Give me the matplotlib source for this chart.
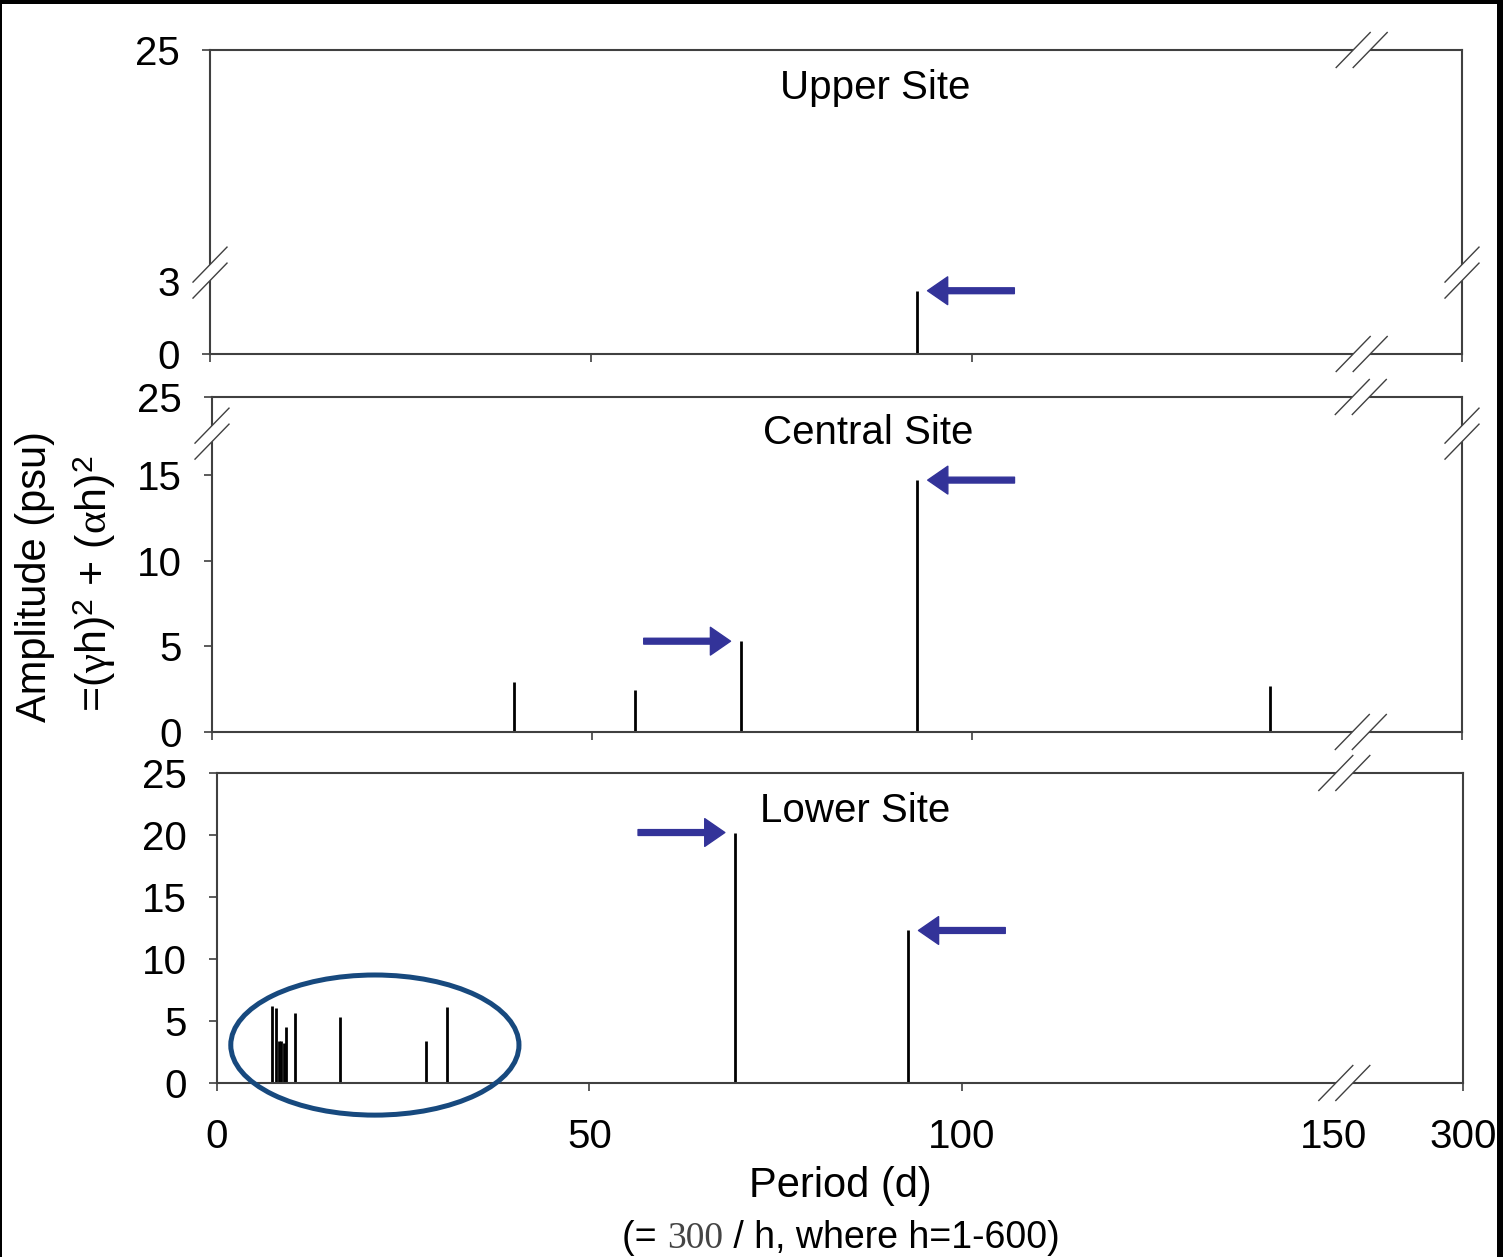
import numpy as np
import matplotlib
matplotlib.use("Agg")
import matplotlib.pyplot as plt
from matplotlib.patches import Ellipse, Polygon, Rectangle
from matplotlib.lines import Line2D
from matplotlib.transforms import IdentityTransform

plt.rcParams["font.family"] = ["Liberation Sans", "DejaVu Sans"]
plt.rcParams["mathtext.fontset"] = "custom"
plt.rcParams["mathtext.rm"] = "Liberation Sans"
plt.rcParams["mathtext.it"] = "Liberation Serif"

# ── data ─────────────────────────────────────────────────────────────────────
upper_period = [92.8]
upper_amp = [2.6]

central_period = [39.7, 55.7, 69.6, 92.8, 139.2]
central_amp = [2.9, 2.45, 5.3, 14.7, 2.7]

lower_period = [7.43, 7.92, 8.26, 8.53, 9.06, 9.31, 10.41, 16.52, 28.0, 30.95, 69.6, 92.8]
lower_amp = [6.2, 6.05, 3.35, 3.35, 3.25, 4.5, 5.65, 5.3, 3.4, 6.1, 20.2, 12.3]

x_ticks = [0, 50, 100, 150, 300]
upper_yticks = [0, 3, 25]
central_yticks = [0, 5, 10, 15, 25]
lower_yticks = [0, 5, 10, 15, 20, 25]

# peaks flagged with an arrow: (index into series, arrow direction)
upper_arrows = [(0, "left")]
central_arrows = [(2, "right"), (3, "left")]
lower_arrows = [(10, "right"), (11, "left")]

# ── style ─────────────────────────────────────────────────────────────────────
W, H = 1503, 1257
AXIS_COLOR = "#404040"
ARROW_COLOR = "#333399"
RING_COLOR = "#17497e"
FS = 29


def broken_scale(brk, s):
    """Piecewise linear scale: unit slope up to brk, slope s above it."""
    def fwd(v):
        v = np.asarray(v, dtype=float)
        return np.where(v <= brk, v, brk + (v - brk) * s)

    def inv(u):
        u = np.asarray(u, dtype=float)
        return np.where(u <= brk, u, brk + (u - brk) / s)
    return fwd, inv


def px_axes(fig, left, top, right, bottom):
    return fig.add_axes([left / W, 1 - bottom / H, (right - left) / W, (bottom - top) / H])


def style_axes(ax, yticks, show_xlabels):
    for sp in ax.spines.values():
        sp.set_color(AXIS_COLOR)
        sp.set_linewidth(1.5)
    ax.set_xlim(0, 300)
    ax.set_ylim(0, 25)
    ax.set_xticks(x_ticks)
    ax.set_yticks(yticks)
    ax.set_yticklabels([str(t) for t in yticks])
    if show_xlabels:
        ax.set_xticklabels([str(t) for t in x_ticks])
    else:
        ax.set_xticklabels([])
    ax.tick_params(direction="out", length=5.5, width=1.2, color=AXIS_COLOR,
                   labelsize=FS, labelcolor="black")
    ax.tick_params(axis="y", pad=16)
    ax.tick_params(axis="x", pad=20)
    # the tick under the x break is not drawn
    ax.xaxis.get_major_ticks()[3].tick1line.set_visible(False)


def slash_pair(fig, cx, cy, along):
    d = np.array([17.0, 17.5])
    if along == "x":
        c1, c2 = np.array([cx - 8.5, cy]), np.array([cx + 8.5, cy])
        poly = [c1 - d, c2 - d, c2 + d, c1 + d]
    else:
        c1, c2 = np.array([cx, cy - 8.0]), np.array([cx, cy + 8.0])
        poly = [c1 - d, c1 + d, c2 + d, c2 - d]
    fig.add_artist(Polygon(poly, closed=True, facecolor="white", edgecolor="none",
                           transform=IdentityTransform(), zorder=3))
    for c in (c1, c2):
        a, b = c - d, c + d
        fig.add_artist(Line2D([a[0], b[0]], [a[1], b[1]], color=AXIS_COLOR, lw=1.0,
                              transform=IdentityTransform(), zorder=4))


def add_breaks(fig, ax, xbreak=None, ybreak=None):
    (x0, y0), (x1, y1) = ax.transAxes.transform([(0, 0), (1, 1)])
    if xbreak is not None:
        cx = ax.transData.transform((xbreak, 0))[0]
        slash_pair(fig, cx, y0, "x")
        slash_pair(fig, cx, y1, "x")
    if ybreak is not None:
        cy = ax.transData.transform((0, ybreak))[1]
        slash_pair(fig, x0, cy, "y")
        slash_pair(fig, x1, cy, "y")


def add_arrows(ax, periods, amps, marks):
    for i, direction in marks:
        sign = 1 if direction == "left" else -1
        ax.annotate("", xy=(periods[i], amps[i]), xycoords="data",
                    xytext=(sign * 70, 0), textcoords="offset points",
                    arrowprops=dict(arrowstyle="simple,head_length=1.45,head_width=2.0,tail_width=0.42",
                                    mutation_scale=10, color=ARROW_COLOR,
                                    shrinkA=0, shrinkB=7.5),
                    annotation_clip=False)


fig = plt.figure(figsize=(W / 100, H / 100), dpi=100)

# ── Upper site ────────────────────────────────────────────────────────────────
ax1 = px_axes(fig, 210, 50, 1462, 354)
ax1.set_xscale("function", functions=broken_scale(150, 0.0954))
ax1.set_yscale("function", functions=broken_scale(3, 0.4315))
ax1.vlines(upper_period, 0, upper_amp, colors="black", linewidth=2.0)
style_axes(ax1, upper_yticks, False)
ax1.yaxis.get_major_ticks()[1].tick1line.set_visible(False)
ax1.text(0.531, 0.875, "Upper Site", transform=ax1.transAxes, ha="center", va="center", fontsize=FS)
add_arrows(ax1, upper_period, upper_amp, upper_arrows)

# ── Central site ──────────────────────────────────────────────────────────────
ax2 = px_axes(fig, 212, 397, 1462, 732)
ax2.set_xscale("function", functions=broken_scale(150, 0.0965))
ax2.set_yscale("function", functions=broken_scale(15, 0.455))
ax2.vlines(central_period, 0, central_amp, colors="black", linewidth=2.0)
style_axes(ax2, central_yticks, False)
ax2.text(0.525, 0.893, "Central Site", transform=ax2.transAxes, ha="center", va="center", fontsize=FS)
add_arrows(ax2, central_period, central_amp, central_arrows)

# ── Lower site ────────────────────────────────────────────────────────────────
ax3 = px_axes(fig, 217, 773, 1463, 1083)
ax3.set_xscale("function", functions=broken_scale(150, 0.1155))
ax3.vlines(lower_period, 0, lower_amp, colors="black", linewidth=2.0)
style_axes(ax3, lower_yticks, True)
ax3.text(0.512, 0.877, "Lower Site", transform=ax3.transAxes, ha="center", va="center", fontsize=FS)
add_arrows(ax3, lower_period, lower_amp, lower_arrows)
ax3.add_patch(Ellipse((21.2, 3.06), 38.7, 11.3, fill=False, edgecolor=RING_COLOR,
                      linewidth=3.6, clip_on=False, zorder=5))

# axis-break marks
add_breaks(fig, ax1, xbreak=162, ybreak=3.8)
add_breaks(fig, ax2, xbreak=162, ybreak=20.3)
add_breaks(fig, ax3, xbreak=162)

# ── axis labels ───────────────────────────────────────────────────────────────
fig.text(35 / W, 1 - 577 / H, "Amplitude (psu)", rotation=90, ha="center", va="center", fontsize=30)
fig.text(95 / W, 1 - 584 / H, r"=($\gamma$h)$^{\mathrm{2}}$ + ($\alpha$h)$^{\mathrm{2}}$",
         rotation=90, ha="center", va="center", fontsize=31)
fig.text(840 / W, 1 - 1186 / H, "Period (d)", ha="center", va="center", fontsize=30)

t1 = fig.text(622 / W, 1 - 1248 / H, "(= ", ha="left", va="baseline", fontsize=27)
t2 = fig.add_artist(plt.Annotation("300", xy=(1, 0), xycoords=t1, ha="left", va="bottom",
                                   fontsize=27, family="Liberation Serif", color="#444444"))
t3 = fig.add_artist(plt.Annotation(" / h, where h=1-600)", xy=(1, 0), xycoords=t2,
                                   ha="left", va="bottom", fontsize=27))

# black frame along top, left and right edges
for rect in [(0, 1 - 4 / H, 1, 4 / H), (0, 0, 2 / W, 1), (1497 / W, 0, 6 / W, 1)]:
    fig.add_artist(Rectangle(rect[:2], rect[2], rect[3], transform=fig.transFigure,
                             facecolor="black", edgecolor="none", zorder=10))

fig.savefig("out.png", dpi=100)
plt.close(fig)
